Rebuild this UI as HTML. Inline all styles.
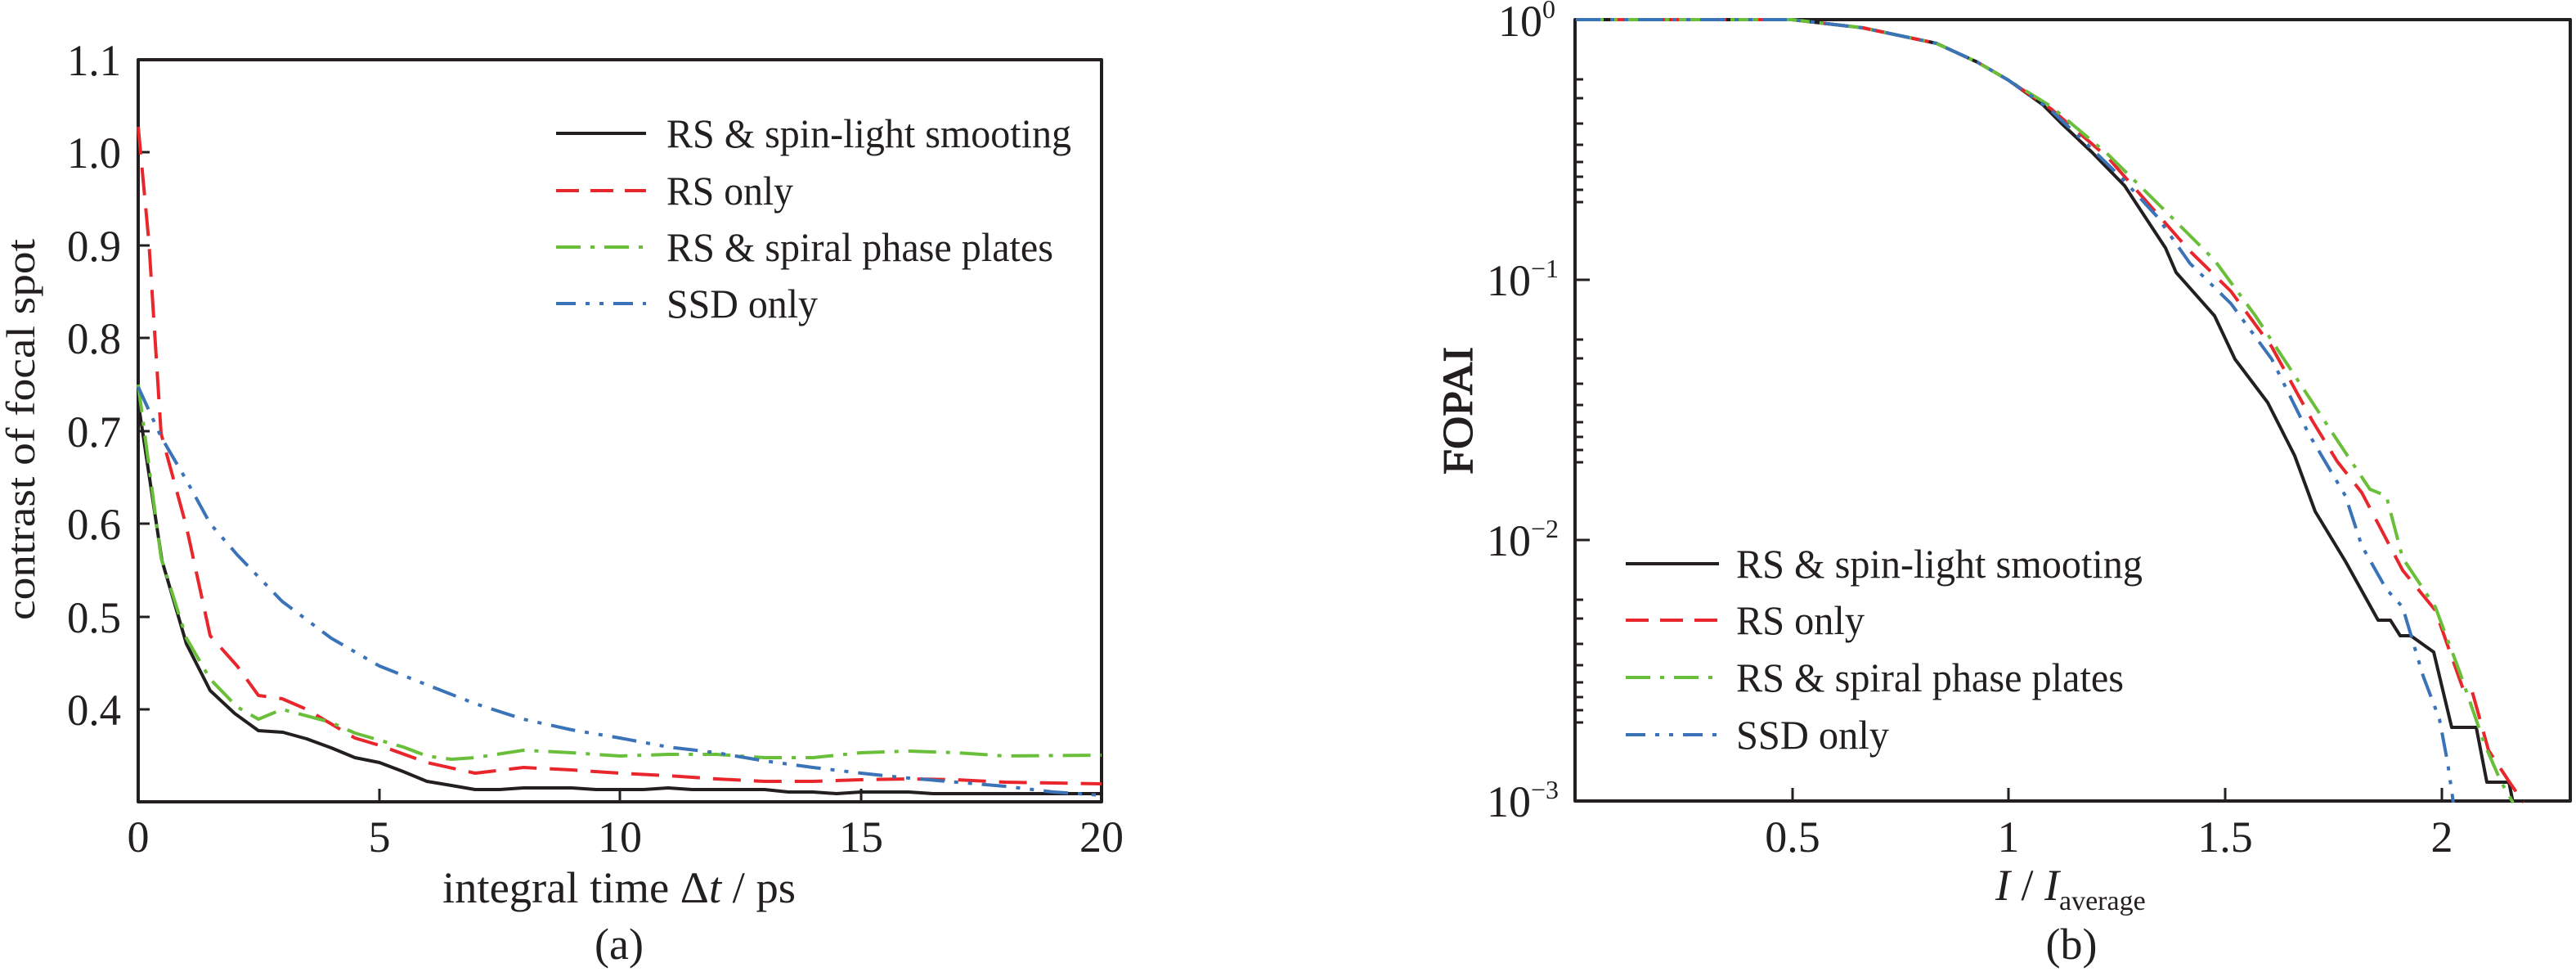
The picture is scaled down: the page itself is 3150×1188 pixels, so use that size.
<!DOCTYPE html>
<html><head><meta charset="utf-8"><style>
html,body{margin:0;padding:0;background:#fff;}
svg{display:block;font-family:"Liberation Serif","DejaVu Serif",serif;}
text{font-family:"Liberation Serif","DejaVu Serif",serif;fill:#231f20;}
</style></head><body>
<svg width="3150" height="1188" viewBox="0 0 3150 1188" xmlns="http://www.w3.org/2000/svg" font-family="Liberation Serif, DejaVu Serif, serif">
<g fill="none" stroke-linejoin="round" stroke-linecap="butt">
<!-- LEFT PLOT -->
<rect x="169" y="73" width="1178" height="907" stroke="#231f20" stroke-width="4"/>
<g stroke="#231f20" stroke-width="3">
<path d="M169 186h14M169 300h14M169 413h14M169 527h14M169 640h14M169 754h14M169 867h14"/>
<path d="M464 980v-16M758 980v-16M1053 980v-16"/>
</g>
<polyline stroke="#231f20" stroke-width="4" points="169,492 198,685 228,787 257,844 287,872 316,893 346,895 375,903 405,914 434,926 464,932 493,943 522,955 552,960 581,965 611,965 640,963 699,963 729,965 787,965 817,963 846,965 935,965 964,968 994,968 1023,970 1053,968 1111,968 1141,970 1347,970"/>
<polyline stroke="#e8262b" stroke-width="4" stroke-dasharray="34,16" points="169,155 182,295 197,530 228,644 257,777 290,814 316,850 345,854 375,867 434,902 464,911 522,932 581,945 640,938 699,941 758,945 817,948 876,952 935,955 994,955 1053,953 1111,952 1170,953 1229,956 1347,958"/>
<polyline stroke="#6abf3a" stroke-width="4" stroke-dasharray="34,12,5,12" points="169,470 197,682 228,780 257,830 290,864 316,879 345,867 405,883 434,896 493,913 522,924 552,928 581,926 640,917 699,920 758,924 817,922 876,922 935,926 994,926 1053,920 1111,918 1170,920 1229,924 1347,923"/>
<polyline stroke="#3a73b8" stroke-width="4" stroke-dasharray="30,12,5,12,5,12" points="169,473 197,534 228,587 257,640 290,678 345,735 405,780 464,814 522,837 581,860 640,879 699,892 758,902 817,913 876,920 935,930 994,938 1053,945 1111,951 1170,956 1229,961 1288,968 1347,972"/>
<!-- legend left -->
<path d="M680 163H790" stroke="#231f20" stroke-width="4"/>
<path d="M680 233H790" stroke="#e8262b" stroke-width="4" stroke-dasharray="28,14"/>
<path d="M680 302H790" stroke="#6abf3a" stroke-width="4" stroke-dasharray="30,12,5,12"/>
<path d="M680 371H790" stroke="#3a73b8" stroke-width="4" stroke-dasharray="24,12,5,12,5,12"/>

<!-- RIGHT PLOT -->
<rect x="1926" y="24" width="1217" height="955" stroke="#231f20" stroke-width="4"/>
<g stroke="#231f20" stroke-width="3">
<path d="M2192 979v-16M2456 979v-16M2721 979v-16M2986 979v-16"/>
<path d="M1926 342h18M1926 660h18"/>
<path d="M1926 120h10M1926 151h10M1926 177h10M1926 198h10M1926 216h10M1926 232h10M1926 247h10M1926 97h10
M1926 438h10M1926 469h10M1926 495h10M1926 516h10M1926 534h10M1926 550h10M1926 565h10M1926 415h10
M1926 756h10M1926 787h10M1926 813h10M1926 834h10M1926 852h10M1926 868h10M1926 883h10M1926 733h10"/>
</g>
<polyline stroke="#231f20" stroke-width="4" points="1927,24 2191,24 2278,34 2368,53 2418,76 2456,98 2498,128 2520,150 2558,186 2598,227 2648,303 2661,333 2708,386 2733,439 2773,492 2806,557 2831,625 2868,686 2908,758 2923,758 2935,777 2948,777 2976,797 2998,889 3028,889 3041,956 3068,956 3073,981"/>
<polyline stroke="#e8262b" stroke-width="4" stroke-dasharray="34,16" points="1927,24 2191,24 2278,34 2368,53 2418,76 2456,98 2508,133 2578,193 2628,250 2678,307 2728,356 2778,424 2828,515 2858,564 2888,602 2938,697 2978,746 2998,803 3013,845 3023,845 3043,917 3068,955 3086,981"/>
<polyline stroke="#6abf3a" stroke-width="4" stroke-dasharray="34,12,5,12" points="1927,24 2191,24 2278,34 2368,53 2418,76 2456,98 2508,130 2578,189 2648,258 2708,318 2758,386 2808,462 2858,538 2898,598 2918,606 2938,682 2978,742 3008,822 3038,909 3058,955 3073,981"/>
<polyline stroke="#3a73b8" stroke-width="4" stroke-dasharray="30,12,5,12,5,12" points="1927,24 2191,24 2278,34 2368,53 2418,76 2456,98 2505,132 2558,182 2593,216 2638,265 2678,322 2728,371 2778,439 2823,530 2868,606 2888,667 2918,720 2938,742 2963,826 2983,879 2993,932 3000,981"/>
<!-- legend right -->
<path d="M1988 689H2102" stroke="#231f20" stroke-width="4"/>
<path d="M1988 758H2102" stroke="#e8262b" stroke-width="4" stroke-dasharray="28,14"/>
<path d="M1988 828H2102" stroke="#6abf3a" stroke-width="4" stroke-dasharray="30,12,5,12"/>
<path d="M1988 898H2102" stroke="#3a73b8" stroke-width="4" stroke-dasharray="24,12,5,12,5,12"/>
</g>

<!-- LEFT TEXT -->
<g font-size="54" text-anchor="end">
<text x="148" y="92" textLength="66" lengthAdjust="spacingAndGlyphs">1.1</text>
<text x="148" y="205" textLength="66" lengthAdjust="spacingAndGlyphs">1.0</text>
<text x="148" y="319" textLength="66" lengthAdjust="spacingAndGlyphs">0.9</text>
<text x="148" y="432" textLength="66" lengthAdjust="spacingAndGlyphs">0.8</text>
<text x="148" y="546" textLength="66" lengthAdjust="spacingAndGlyphs">0.7</text>
<text x="148" y="659" textLength="66" lengthAdjust="spacingAndGlyphs">0.6</text>
<text x="148" y="773" textLength="66" lengthAdjust="spacingAndGlyphs">0.5</text>
<text x="148" y="886" textLength="66" lengthAdjust="spacingAndGlyphs">0.4</text>
</g>
<g font-size="54" text-anchor="middle">
<text x="169" y="1041">0</text>
<text x="464" y="1041">5</text>
<text x="758" y="1041">10</text>
<text x="1053" y="1041">15</text>
<text x="1347" y="1041">20</text>
<text x="757" y="1103" textLength="432" lengthAdjust="spacingAndGlyphs">integral time Δ<tspan font-style="italic">t</tspan> / ps</text>
<text x="757" y="1172">(a)</text>
</g>
<text transform="translate(42,525) rotate(-90)" font-size="50" text-anchor="middle" textLength="466" lengthAdjust="spacingAndGlyphs">contrast of focal spot</text>
<g font-size="50">
<text x="815" y="180" textLength="495" lengthAdjust="spacingAndGlyphs">RS &amp; spin-light smooting</text>
<text x="815" y="250" textLength="155" lengthAdjust="spacingAndGlyphs">RS only</text>
<text x="815" y="319" textLength="473" lengthAdjust="spacingAndGlyphs">RS &amp; spiral phase plates</text>
<text x="815" y="388" textLength="185" lengthAdjust="spacingAndGlyphs">SSD only</text>
</g>

<!-- RIGHT TEXT -->
<g font-size="54">
<text x="1832" y="44">10<tspan font-size="32" dy="-22">0</tspan></text>
<text x="1818" y="361">10<tspan font-size="32" dy="-22">−1</tspan></text>
<text x="1818" y="679">10<tspan font-size="32" dy="-22">−2</tspan></text>
<text x="1818" y="998">10<tspan font-size="32" dy="-22">−3</tspan></text>
</g>
<g font-size="54" text-anchor="middle">
<text x="2192" y="1041">0.5</text>
<text x="2456" y="1041">1</text>
<text x="2721" y="1041">1.5</text>
<text x="2986" y="1041">2</text>
<text x="2533" y="1172">(b)</text>
</g>
<text x="2440" y="1100" font-size="54"><tspan font-style="italic">I</tspan> / <tspan font-style="italic">I</tspan><tspan font-size="34" dy="12">average</tspan></text>
<text transform="translate(1800,502) rotate(-90)" font-size="52" text-anchor="middle" textLength="156" lengthAdjust="spacingAndGlyphs" stroke="#231f20" stroke-width="1.2">FOPAI</text>
<g font-size="50">
<text x="2123" y="706" textLength="497" lengthAdjust="spacingAndGlyphs">RS &amp; spin-light smooting</text>
<text x="2123" y="775" textLength="157" lengthAdjust="spacingAndGlyphs">RS only</text>
<text x="2123" y="845" textLength="474" lengthAdjust="spacingAndGlyphs">RS &amp; spiral phase plates</text>
<text x="2123" y="915" textLength="187" lengthAdjust="spacingAndGlyphs">SSD only</text>
</g>
</svg>
</body></html>
